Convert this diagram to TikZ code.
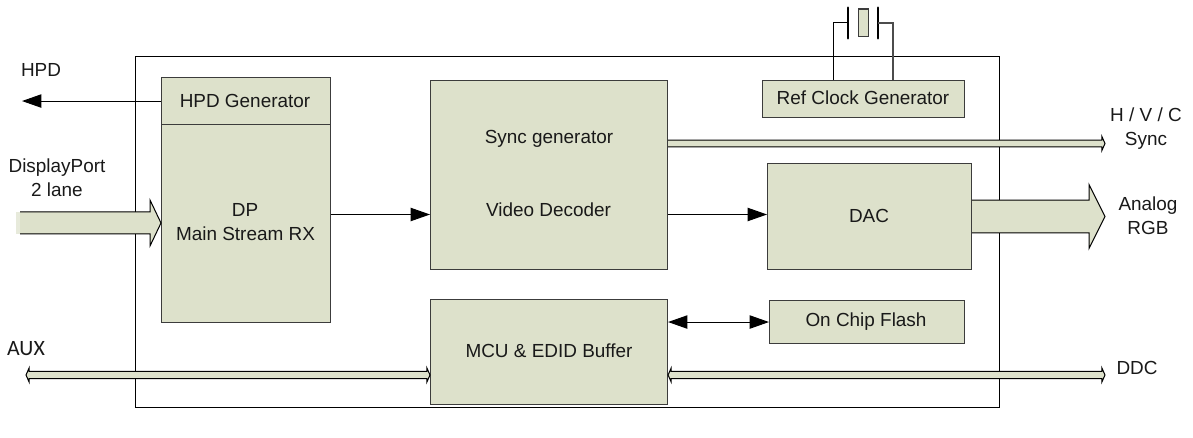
\documentclass[tikz,border=0pt]{standalone}
\usepackage{fontspec}
\setmainfont{Liberation Sans}
\newfontfamily\auxfont{Carlito}
\usetikzlibrary{arrows.meta,calc}

\definecolor{boxfill}{HTML}{DDE1CB}
\definecolor{boxline}{HTML}{3C3C3C}

\tikzset{
  block/.style={draw=boxline, fill=boxfill, line width=0.8pt, inner sep=0pt, align=center, anchor=north west},
  label/.style={inner sep=0pt, anchor=base, font=\fontsize{14.2}{17}\selectfont, text=black!90},
  thinline/.style={draw=black, line width=0.75pt, -{Triangle[length=14.5pt, width=10pt]}},
  bothline/.style={draw=black, line width=0.75pt, {Triangle[length=14.5pt, width=10pt]}-{Triangle[length=14.5pt, width=10pt]}},
  busline/.style={draw=black, fill=boxfill, line width=0.75pt}
}

% hollow arrow: from, to, half width, half head width, head length
\newcommand{\busarrow}[5]{
  \coordinate (headbase) at ($#2!#5!#1$);
  \coordinate (tailend) at #1;
  \draw [busline] ($(tailend)!#3!90:(headbase)$) -- ($(headbase)!#3!-90:(tailend)$) -- ($(headbase)!#4!-90:(tailend)$) -- #2 -- ($(headbase)!#4!90:(tailend)$) -- ($(headbase)!#3!90:(tailend)$) -- ($(tailend)!#3!-90:(headbase)$);
}
% same with a head on both ends
\newcommand{\busboth}[5]{
  \coordinate (headbase) at ($#2!#5!#1$);
  \coordinate (headother) at ($#1!#5!#2$);
  \draw [busline] #1 -- ($(headother)!#4!-90:(headbase)$) -- ($(headother)!#3!-90:(headbase)$) -- ($(headbase)!#3!90:(headother)$) -- ($(headbase)!#4!90:(headother)$) -- #2 -- ($(headbase)!#4!-90:(headother)$) -- ($(headbase)!#3!-90:(headother)$) -- ($(headother)!#3!90:(headbase)$) -- ($(headother)!#4!90:(headbase)$) -- cycle;
}

\begin{document}
\begin{tikzpicture}[x=0.75pt, y=-0.75pt]
\useasboundingbox (0,0) rectangle (1193,438);

% chip outline
\draw [black, line width=0.75pt] (135,57) rectangle (999,408);

% free ends
\coordinate (hpdend) at (22,100);
\coordinate (dpstart) at (20,223);
\coordinate (dptip) at (161,223);
\coordinate (auxend) at (26,375);
\coordinate (ddcend) at (1105,375);
\coordinate (syncend) at (1105,143.5);
\coordinate (rgbend) at (1105,216.5);
\coordinate (midline) at (548,214.5);
\coordinate (syncline) at (548,143.5);
\coordinate (busline) at (548,375);
\coordinate (rgbline) at (869,216.5);
\coordinate (leadl) at (833.5,23);
\coordinate (leadr) at (893,23);

% crystal
\node (platel) [minimum width=0pt, inner sep=0pt, minimum height=22.5pt, draw=none] at (848,23) {};
\node (plater) [minimum width=0pt, inner sep=0pt, minimum height=22.5pt, draw=none] at (878,23) {};
\draw [black, line width=2pt, line cap=round] (platel.north) -- (platel.south);
\draw [black, line width=2pt, line cap=round] (plater.north) -- (plater.south);
\node (quartz) [block, minimum width=7.5pt, minimum height=20.5pt] at (858,8.5) {};

% blocks
\node (hpdgen) [block, minimum width=126.75pt, minimum height=35.25pt] at (161,77) {};
\node (dprx) [block, minimum width=126.75pt, minimum height=148.5pt] at (161,124) {};
\node (decoder) [block, minimum width=177.75pt, minimum height=141.75pt] at (430,80) {};
\node (refclk) [block, minimum width=151.5pt, minimum height=27.75pt] at (762,80) {};
\node (dac) [block, minimum width=153pt, minimum height=79.5pt] at (767,163) {};
\node (mcu) [block, minimum width=177.75pt, minimum height=78.75pt] at (430,299) {};
\node (flash) [block, minimum width=146.25pt, minimum height=32.25pt] at (769,300) {};

% thin arrows
\draw [thinline] (hpdgen.west) -- (hpdgen.west -| hpdend);
\draw [thinline] (dprx.east |- midline) -- (decoder.west |- midline);
\draw [thinline] (decoder.east |- midline) -- (dac.west |- midline);
\draw [bothline] (mcu.east |- flash.west) -- (flash.west);

% crystal leads
\draw [black, line width=0.75pt] (refclk.north -| leadl) -- (leadl) -- (platel.center);
\draw [black!70, line width=0.8pt] (refclk.north -| leadr) -- (leadr) -- (plater.center);

% buses
\busarrow{(decoder.east |- syncline)}{(syncend)}{2.6pt}{5.2pt}{2.3pt}
\busarrow{(dac.east |- rgbline)}{(rgbend)}{12.2pt}{24pt}{12pt}
\fill [boxfill!70!white] (16,212) rectangle (20,234);
\busarrow{(dpstart)}{(dptip)}{8.25pt}{17.25pt}{8.25pt}
\busboth{(auxend)}{(mcu.west |- busline)}{2.7pt}{5.2pt}{2.3pt}
\busboth{(mcu.east |- busline)}{(ddcend)}{2.7pt}{5.2pt}{2.3pt}

% block texts
\node (hpdtxt) [label] at (245,107.7) {HPD Generator};
\node (dptxt) [label] at (245,216.7) {DP};
\node (rxtxt) [label] at (245.5,241) {Main Stream RX};
\node (synctxt) [label] at (549,144) {Sync generator};
\node (videotxt) [label] at (548.5,216.7) {Video Decoder};
\node (reftxt) [label] at (863,105) {Ref Clock Generator};
\node (dactxt) [label] at (869,223) {DAC};
\node (mcutxt) [label] at (549,357.7) {MCU \& EDID Buffer};
\node (flashtxt) [label] at (866,326.7) {On Chip Flash};

% outside texts
\node (hpdlab) [label] at (41,76.7) {HPD};
\node (dplab) [label] at (57,172.7) {DisplayPort};
\node (lanelab) [label] at (57,196.7) {2 lane};
\node (auxlab) [label, font=\fontsize{16.4}{18}\selectfont\auxfont] at (26,355.7) {AUX};
\node (hvclab) [label] at (1146,121.7) {H / V / C};
\node (synclab) [label] at (1146,146) {Sync};
\node (analoglab) [label] at (1148,211) {Analog};
\node (rgblab) [label] at (1148,235) {RGB};
\node (ddclab) [label] at (1137,374) {DDC};
\end{tikzpicture}
\end{document}
